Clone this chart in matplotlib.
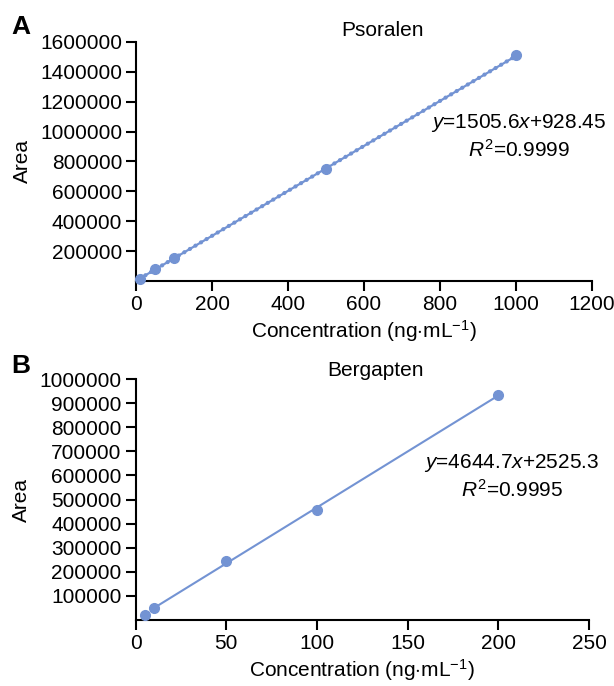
import matplotlib

matplotlib.use("Agg")
import matplotlib.pyplot as plt
from matplotlib.ticker import ScalarFormatter

plt.rcParams["font.family"] = "Liberation Sans"
plt.rcParams["mathtext.fontset"] = "custom"
plt.rcParams["mathtext.rm"] = "Liberation Sans"
plt.rcParams["mathtext.it"] = "Liberation Sans:italic"

# Psoralen calibration
conc_a = [10, 50, 100, 500, 1000]
area_a = [16000, 77000, 152000, 748000, 1512000]
fit_a = [928.45, 1505.6]  # intercept, slope
xticks_a = [0, 200, 400, 600, 800, 1000, 1200]
yticks_a = [200000, 400000, 600000, 800000, 1000000, 1200000, 1400000, 1600000]

# Bergapten calibration
conc_b = [5, 10, 50, 100, 200]
area_b = [22000, 49000, 243000, 455000, 933000]
fit_b = [2525.3, 4644.7]
xticks_b = [0, 50, 100, 150, 200, 250]
yticks_b = [100000, 200000, 300000, 400000, 500000, 600000, 700000, 800000, 900000, 1000000]

COLOR = "#7393D3"
FS = 15

fig = plt.figure(figsize=(6.14, 6.86), dpi=100)
ax_a = fig.add_axes([0.2215, 0.5904, 0.7427, 0.3484])
ax_b = fig.add_axes([0.2207, 0.0962, 0.7386, 0.3513])


def style_axes(ax):
    for side in ("top", "right"):
        ax.spines[side].set_visible(False)
    for side in ("left", "bottom"):
        ax.spines[side].set_linewidth(1.5)
    ax.tick_params(direction="out", length=7, width=1.5, labelsize=FS, pad=3)
    fmt = ScalarFormatter(useOffset=False)
    fmt.set_scientific(False)
    ax.yaxis.set_major_formatter(fmt)


# Panel A
x0, x1 = conc_a[0], conc_a[-1]
line_x = [x0, x1]
line_y = [fit_a[0] + fit_a[1] * x0, fit_a[0] + fit_a[1] * x1]
ax_a.plot(line_x, line_y, color=COLOR, lw=1.6)
ax_a.plot(line_x, line_y, color=COLOR, lw=3.0, linestyle=(0, (0.05, 1.5)),
          dash_capstyle="round")
ax_a.plot(conc_a, area_a, "o", color=COLOR, markersize=7, clip_on=False, zorder=3)
ax_a.set_xlim(0, 1200)
ax_a.set_ylim(0, 1600000)
ax_a.set_xticks(xticks_a)
ax_a.set_yticks(yticks_a)
style_axes(ax_a)
ax_a.set_xlabel(r"Concentration (ng$\cdot$mL$^{-1}$)", fontsize=FS, labelpad=3)
ax_a.set_ylabel("Area", fontsize=FS, labelpad=6)
ax_a.text(0.54, 1.01, "Psoralen", transform=ax_a.transAxes, ha="center",
          va="bottom", fontsize=FS)
ax_a.text(0.84, 0.66, r"$y$=1505.6$x$+928.45", transform=ax_a.transAxes,
          ha="center", va="center", fontsize=FS)
ax_a.text(0.84, 0.55, r"$R^{2}$=0.9999", transform=ax_a.transAxes,
          ha="center", va="center", fontsize=FS)
fig.text(0.018, 0.978, "A", fontsize=19, fontweight="bold", va="top")

# Panel B
x0, x1 = conc_b[1], conc_b[-1]
ax_b.plot([x0, x1], [fit_b[0] + fit_b[1] * x0, fit_b[0] + fit_b[1] * x1],
          color=COLOR, lw=1.5)
ax_b.plot(conc_b, area_b, "o", color=COLOR, markersize=7, clip_on=False, zorder=3)
ax_b.set_xlim(0, 250)
ax_b.set_ylim(0, 1000000)
ax_b.set_xticks(xticks_b)
ax_b.set_yticks(yticks_b)
style_axes(ax_b)
ax_b.set_xlabel(r"Concentration (ng$\cdot$mL$^{-1}$)", fontsize=FS, labelpad=3)
ax_b.set_ylabel("Area", fontsize=FS, labelpad=6)
ax_b.text(0.53, 0.995, "Bergapten", transform=ax_b.transAxes, ha="center",
          va="bottom", fontsize=FS)
ax_b.text(0.83, 0.65, r"$y$=4644.7$x$+2525.3", transform=ax_b.transAxes,
          ha="center", va="center", fontsize=FS)
ax_b.text(0.83, 0.54, r"$R^{2}$=0.9995", transform=ax_b.transAxes,
          ha="center", va="center", fontsize=FS)
fig.text(0.018, 0.484, "B", fontsize=19, fontweight="bold", va="top")

fig.savefig("out.png", dpi=100)
